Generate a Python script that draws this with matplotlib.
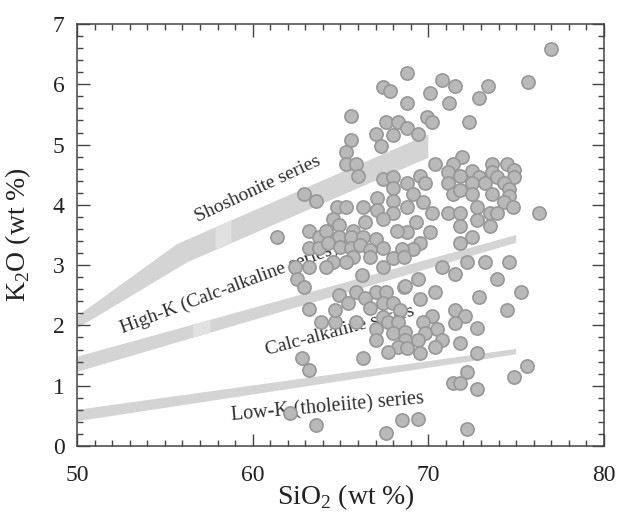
import matplotlib
matplotlib.use('Agg')
import numpy as np
import matplotlib.pyplot as plt
from matplotlib.patches import Polygon
from matplotlib.ticker import MultipleLocator

plt.rcParams['font.family'] = ['Liberation Serif', 'DejaVu Serif']
plt.rcParams['mathtext.fontset'] = 'custom'
plt.rcParams['mathtext.rm'] = 'Liberation Serif'

# Sample compositions (wt %)
sio2 = [77.0, 75.7, 68.8, 67.4, 67.8, 70.8, 71.5, 73.4, 70.1, 72.9, 68.8, 71.2,
        65.6, 67.6, 68.3, 68.8, 67.0, 68.0, 67.3, 69.9, 70.2, 72.3, 69.4, 65.6,
        65.3, 65.3, 65.9, 66.0,
        70.4, 71.9, 71.4, 72.5, 73.6, 74.5, 74.9, 74.9, 71.1, 69.5, 68.8, 69.8,
        71.1, 71.8, 72.9, 72.5, 73.2, 73.6, 73.9, 74.3, 74.6, 74.6, 74.3, 74.8,
        71.4, 71.8, 72.5, 73.6, 69.1, 69.7, 68.8, 70.2, 71.1, 71.8, 72.8, 72.8,
        73.5, 73.9, 73.5, 71.8, 76.3, 69.3, 68.8, 70.1, 69.5, 69.1, 68.5, 72.5,
        71.8,
        67.4, 68.0, 68.0, 68.0, 67.1, 67.1, 68.0, 62.9, 63.6, 64.8, 65.3, 66.3,
        67.4, 66.4, 64.6, 64.9, 61.4, 63.2, 63.8, 64.2, 64.9, 65.7, 65.6, 66.3,
        67.0, 68.2, 63.2, 63.8, 64.3, 65.0, 65.6, 66.1, 66.7, 67.4, 65.7, 65.3,
        64.6, 64.2, 63.2, 62.4, 66.7, 67.4, 68.0, 68.6, 62.5, 62.9, 66.2, 64.9,
        65.9, 67.0, 67.6, 68.6, 65.4, 66.4, 66.7, 67.4, 68.0, 68.4, 63.2, 63.9,
        64.7, 64.7, 65.9, 67.4, 67.7, 68.3, 67.0, 67.0, 68.0, 68.7, 68.7, 68.3,
        67.7, 68.8, 62.8, 63.2, 66.3, 62.1, 63.6, 68.5, 67.6,
        70.8, 71.5, 72.2, 73.2, 74.6, 73.9, 69.4, 68.7, 70.4, 75.3, 72.9, 69.5,
        74.5, 71.5, 72.1, 71.5, 70.2, 69.7, 70.5, 69.8, 69.4, 70.8, 70.4, 71.8,
        72.8, 72.8, 69.5, 72.2, 71.4, 71.8, 72.8, 74.9, 75.6, 69.4, 72.2]
k2o = [6.58, 6.04, 6.19, 5.95, 5.89, 6.07, 5.97, 5.97, 5.85, 5.77, 5.69, 5.69,
       5.47, 5.37, 5.37, 5.27, 5.17, 5.16, 4.98, 5.46, 5.37, 5.37, 5.17, 5.07,
       4.88, 4.68, 4.68, 4.48,
       4.68, 4.79, 4.68, 4.56, 4.68, 4.68, 4.58, 4.46, 4.54, 4.48, 4.36, 4.36,
       4.36, 4.48, 4.46, 4.36, 4.36, 4.54, 4.46, 4.36, 4.26, 4.15, 4.05, 3.96,
       4.18, 4.25, 4.18, 4.18, 4.18, 4.05, 3.96, 3.86, 3.86, 3.86, 3.96, 3.75,
       3.86, 3.86, 3.65, 3.65, 3.86, 3.71, 3.55, 3.55, 3.37, 3.27, 3.27, 3.47,
       3.37,
       4.43, 4.46, 4.28, 4.06, 4.11, 3.91, 3.86, 4.18, 4.06, 3.96, 3.96, 3.96,
       3.76, 3.71, 3.76, 3.66, 3.47, 3.57, 3.47, 3.57, 3.47, 3.57, 3.47, 3.47,
       3.43, 3.57, 3.28, 3.28, 3.37, 3.30, 3.28, 3.33, 3.25, 3.28, 3.13, 3.05,
       3.05, 2.97, 2.97, 2.97, 3.13, 2.97, 3.12, 3.13, 2.77, 2.64, 2.84, 2.50,
       2.55, 2.55, 2.55, 2.64, 2.37, 2.45, 2.29, 2.37, 2.37, 2.26, 2.27, 2.06,
       2.06, 2.26, 2.06, 2.14, 2.06, 2.06, 1.94, 1.76, 1.87, 1.89, 1.76, 1.64,
       1.56, 1.63, 1.46, 1.26, 1.46, 0.55, 0.35, 0.43, 0.22,
       2.97, 2.85, 3.05, 3.05, 3.05, 2.77, 2.77, 2.65, 2.55, 2.55, 2.47, 2.44,
       2.26, 2.26, 2.16, 2.04, 2.16, 2.06, 1.94, 1.87, 1.76, 1.76, 1.64, 1.71,
       1.96, 1.54, 1.54, 1.23, 1.04, 1.04, 0.95, 1.14, 1.33, 0.45, 0.28]

# Series dividing bands: upper edge and lower edge (wt %)
shosh_up_x, shosh_up_y = [50, 55.7, 70], [2.15, 3.35, 5.17]
shosh_lo_x, shosh_lo_y = [50, 56.3, 70], [1.95, 3.05, 4.78]
highk_up_x, highk_up_y = [50, 75], [1.48, 3.50]
highk_lo_x, highk_lo_y = [50, 75], [1.23, 3.37]
lowk_up_x, lowk_up_y = [50, 75], [0.60, 1.61]
lowk_lo_x, lowk_lo_y = [50, 75], [0.41, 1.52]

BAND_COLOR = '#d3d4d3'
PATCH_COLOR = '#e1e1e1'
TEXT_COLOR = '#2e2e2e'
AXIS_COLOR = '#444444'


def band_polygon(ux, uy, lx, ly, **kw):
    verts = list(zip(ux, uy)) + list(zip(lx[::-1], ly[::-1]))
    return Polygon(verts, closed=True, edgecolor='none', **kw)


def band_piece(ux, uy, lx, ly, x0, x1, **kw):
    # small lighter section of a band between x0 and x1
    xs = [x0, x1]
    up = np.interp(xs, ux, uy)
    lo = np.interp(xs, lx, ly)
    verts = [(x0, up[0]), (x1, up[1]), (x1, lo[1]), (x0, lo[0])]
    return Polygon(verts, closed=True, edgecolor='none', **kw)


fig = plt.figure(figsize=(6.22, 5.14), dpi=100)
ax = fig.add_axes([0.1238, 0.1323, 0.8472, 0.821])

bands = [(shosh_up_x, shosh_up_y, shosh_lo_x, shosh_lo_y),
         (highk_up_x, highk_up_y, highk_lo_x, highk_lo_y),
         (lowk_up_x, lowk_up_y, lowk_lo_x, lowk_lo_y)]
for ux, uy, lx, ly in bands:
    ax.add_patch(band_polygon(ux, uy, lx, ly, facecolor=BAND_COLOR, zorder=1))

ax.add_patch(band_piece(*bands[0], 57.9, 58.8, facecolor=PATCH_COLOR, zorder=1.2))
ax.add_patch(band_piece(*bands[1], 56.6, 57.6, facecolor=PATCH_COLOR, zorder=1.2))

# Series labels
ax.text(56.9, 3.71, 'Shoshonite series', rotation=25, rotation_mode='anchor',
        ha='left', va='baseline', fontsize=14, color=TEXT_COLOR, zorder=2)
ax.text(52.6, 1.87, 'High-K (Calc-alkaline series)', rotation=20.5,
        rotation_mode='anchor', ha='left', va='baseline', fontsize=14,
        color=TEXT_COLOR, zorder=2)
ax.text(60.8, 1.51, 'Calc-alkaline series', rotation=15, rotation_mode='anchor',
        ha='left', va='baseline', fontsize=14, color=TEXT_COLOR, zorder=2)
ax.text(58.8, 0.43, 'Low-K (tholeiite) series', rotation=5, rotation_mode='anchor',
        ha='left', va='baseline', fontsize=14.5, color=TEXT_COLOR, zorder=2)

ax.scatter(sio2, k2o, s=90, facecolor='#b9b9b9', edgecolor='#979797',
           linewidths=1.2, zorder=3)

ax.set_xlim(50, 80)
ax.set_ylim(0, 7)
ax.xaxis.set_major_locator(MultipleLocator(10))
ax.xaxis.set_minor_locator(MultipleLocator(1))
ax.yaxis.set_major_locator(MultipleLocator(1))
ax.yaxis.set_minor_locator(MultipleLocator(0.2))
ax.tick_params(which='both', direction='in', top=True, right=True,
               color=AXIS_COLOR, width=1.0)
ax.tick_params(which='major', length=9, labelsize=17, labelcolor='#222222')
ax.tick_params(which='minor', length=4.5)
ax.tick_params(axis='x', which='major', pad=14)
ax.tick_params(axis='y', which='major', pad=9)
for sp in ax.spines.values():
    sp.set_color(AXIS_COLOR)
    sp.set_linewidth(1.1)

ax.set_xlabel('SiO$_\\mathregular{2}$ (wt %)', fontsize=20, color='#222222')
ax.xaxis.set_label_coords(0.51, -0.087)
ax.set_ylabel('K$_\\mathregular{2}$O (wt %)', fontsize=20, color='#222222')
ax.yaxis.set_label_coords(-0.083, 0.5)

fig.savefig('out.png', dpi=100)
plt.close(fig)
